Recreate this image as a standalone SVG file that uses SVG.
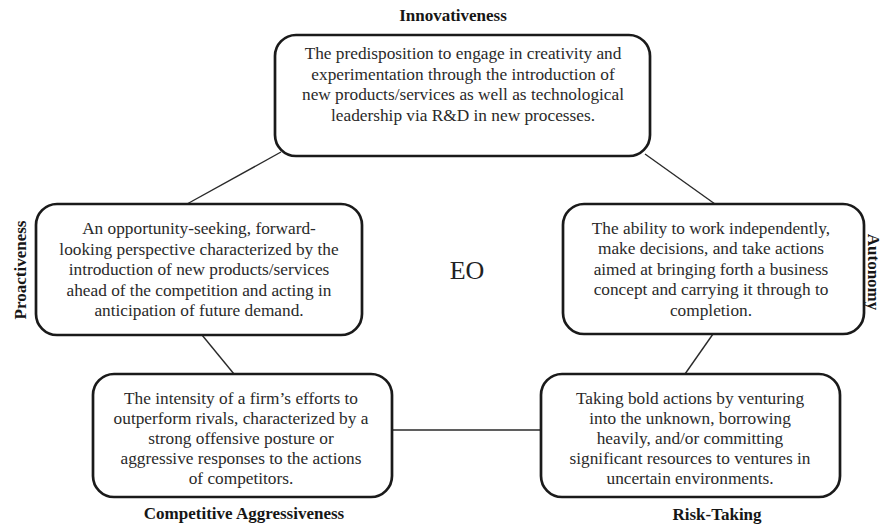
<svg xmlns="http://www.w3.org/2000/svg" width="882" height="526" viewBox="0 0 882 526">
<style>
.box{fill:#fff;stroke:#1a1a1a;stroke-width:2.7}
.txt{font-family:"Liberation Serif","Times New Roman",serif;font-size:17.3px;fill:#2a2a2a;text-anchor:middle}
.lbl{font-family:"Liberation Serif","Times New Roman",serif;font-size:17px;font-weight:bold;fill:#161616;text-anchor:middle}
.eo{font-family:"Liberation Serif","Times New Roman",serif;font-size:26px;fill:#222;text-anchor:middle}
.con{stroke:#2a2a2a;stroke-width:1.4;fill:none}
</style>
<rect width="882" height="526" fill="#fff"/>
<g id="connectors">
<line class="con" x1="281" y1="152" x2="187" y2="204"/>
<line class="con" x1="645" y1="154" x2="715" y2="204"/>
<line class="con" x1="202" y1="335" x2="234" y2="374"/>
<line class="con" x1="713" y1="334" x2="685" y2="374"/>
<line class="con" x1="392" y1="430" x2="541" y2="430"/>
</g>
<g id="innovativeness">
<text class="lbl" x="453" y="21">Innovativeness</text>
<rect class="box" x="275" y="35" width="375" height="121" rx="21"/>
<text class="txt" x="463" y="59">The predisposition to engage in creativity and</text>
<text class="txt" x="463" y="79.5">experimentation through the introduction of</text>
<text class="txt" x="463" y="100">new products/services as well as technological</text>
<text class="txt" x="463" y="120.5">leadership via R&amp;D in new processes.</text>
</g>
<g id="proactiveness">
<text class="lbl" transform="translate(26,270) rotate(-90)" x="0" y="0">Proactiveness</text>
<rect class="box" x="36" y="204" width="326" height="131" rx="21"/>
<text class="txt" x="199" y="234">An opportunity-seeking, forward-</text>
<text class="txt" x="199" y="254.5">looking perspective characterized by the</text>
<text class="txt" x="199" y="275">introduction of new products/services</text>
<text class="txt" x="199" y="295.5">ahead of the competition and acting in</text>
<text class="txt" x="199" y="316">anticipation of future demand.</text>
</g>
<g id="autonomy">
<text class="lbl" transform="translate(868,272) rotate(90)" x="0" y="0">Autonomy</text>
<rect class="box" x="563" y="204" width="301" height="130" rx="21"/>
<text class="txt" x="711" y="233.5">The ability to work independently,</text>
<text class="txt" x="711" y="254">make decisions, and take actions</text>
<text class="txt" x="711" y="274.5">aimed at bringing forth a business</text>
<text class="txt" x="711" y="295">concept and carrying it through to</text>
<text class="txt" x="711" y="315.5">completion.</text>
</g>
<g id="competitive-aggressiveness">
<rect class="box" x="93" y="374" width="299" height="123" rx="21"/>
<text class="txt" x="241" y="403.5">The intensity of a firm’s efforts to</text>
<text class="txt" x="241" y="423.5">outperform rivals, characterized by a</text>
<text class="txt" x="241" y="443.5">strong offensive posture or</text>
<text class="txt" x="241" y="463.5">aggressive responses to the actions</text>
<text class="txt" x="241" y="483.5">of competitors.</text>
<text class="lbl" x="244" y="519">Competitive Aggressiveness</text>
</g>
<g id="risk-taking">
<rect class="box" x="541" y="374" width="299" height="123" rx="21"/>
<text class="txt" x="690" y="403.5">Taking bold actions by venturing</text>
<text class="txt" x="690" y="423.5">into the unknown, borrowing</text>
<text class="txt" x="690" y="443.5">heavily, and/or committing</text>
<text class="txt" x="690" y="463.5">significant resources to ventures in</text>
<text class="txt" x="690" y="483.5">uncertain environments.</text>
<text class="lbl" x="717" y="520">Risk-Taking</text>
</g>
<g id="eo">
<text class="eo" x="467" y="279">EO</text>
</g>
</svg>
